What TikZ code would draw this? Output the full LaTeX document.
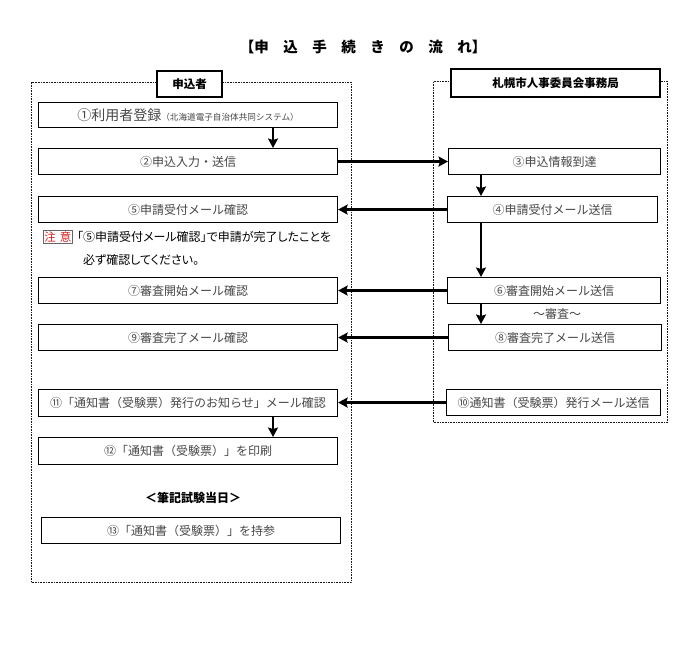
\documentclass[tikz,border=0pt]{standalone}
\usepackage{fontspec}
\newfontfamily\jp{Noto Sans CJK JP}
\newfontfamily\jpp{Noto Sans CJK JP}[RawFeature=+palt]
\usetikzlibrary{arrows.meta,calc}
\begin{document}
\begin{tikzpicture}[x=1pt,y=-1pt,
  box/.style={draw, line width=1.1pt, fill=white, inner sep=0pt, anchor=north west,
    font=\jp\fontsize{12}{14}\selectfont, text=black!72},
  hdr/.style={draw, line width=2pt, fill=white, inner sep=0pt, anchor=north west,
    font=\jp\bfseries\fontsize{11.5}{13}\selectfont},
  arr/.style={line width=2.2pt, -{Stealth[length=9.5pt,width=10pt,inset=1.5pt]}},
  cont/.style={draw=black!90, line width=1pt, dash pattern=on 0.9pt off 0.7pt, inner sep=0pt, anchor=north west}]
\useasboundingbox (0,0) rectangle (700,658);
% title
\node[font=\jp\bfseries\fontsize{14.5}{16}\selectfont] (title) at (363,47) {【申　込　手　続　き　の　流　れ】};
% containers
\node[cont, minimum width=320pt, minimum height=500pt] (lane1) at (31,82) {};
\node[cont, minimum width=234pt, minimum height=341pt] (lane2) at (433,81) {};
% headers
\node[hdr, minimum width=65pt, minimum height=26pt] (h1) at (156,70) {申込者};
\node[hdr, minimum width=209pt, minimum height=28pt] (h2) at (450,68) {札幌市人事委員会事務局};
% left boxes
\node[box, minimum width=299pt, minimum height=25pt] (n1) at (38,102) {{\fontsize{14}{16}\selectfont ①利用者登録}{\fontsize{8.6}{10}\selectfont （北海道電子自治体共同システム）}};
\node[box, minimum width=299pt, minimum height=26pt] (n2) at (38,148) {②申込入力・送信};
\node[box, minimum width=299pt, minimum height=26pt] (n5) at (38,196) {⑤申請受付メール確認};
\node[box, minimum width=299pt, minimum height=26pt] (n7) at (38,277) {⑦審査開始メール確認};
\node[box, minimum width=299pt, minimum height=26pt] (n9) at (38,324) {⑨審査完了メール確認};
\node[box, minimum width=299pt, minimum height=27pt] (n11) at (38,389) {⑪「通知書（受験票）発行のお知らせ」メール確認};
\node[box, minimum width=299pt, minimum height=27pt] (n12) at (38,437) {⑫「通知書（受験票）」を印刷};
\node[box, minimum width=299pt, minimum height=26pt] (n13) at (41,517) {⑬「通知書（受験票）」を持参};
% right boxes
\node[box, minimum width=212pt, minimum height=26pt] (n3) at (448,148) {③申込情報到達};
\node[box, minimum width=210pt, minimum height=26pt] (n4) at (447,196) {④申請受付メール送信};
\node[box, minimum width=213pt, minimum height=26pt] (n6) at (447,277) {⑥審査開始メール送信};
\node[box, minimum width=213pt, minimum height=26pt] (n8) at (448,324) {⑧審査完了メール送信};
\node[box, minimum width=214pt, minimum height=26pt] (n10) at (446,389) {⑩通知書（受験票）発行メール送信};
% notes
\node[draw=black!60, line width=0.6pt, fill=white, text={rgb,255:red,215;green,30;blue,30},
  font=\jp\fontsize{11.5}{13}\selectfont, inner xsep=1pt, inner ysep=1.5pt, anchor=west] (chui) at (43,237) {注\hspace{4pt}意};
\node[anchor=west, inner sep=0pt, font=\jpp\fontsize{12}{14}\selectfont] (note1) at (77,237) {「⑤申請受付メール確認」で申請が完了したことを};
\node[anchor=west, inner sep=0pt, font=\jpp\fontsize{12}{14}\selectfont] (note2) at (83,260) {必ず確認してください。};
\node[font=\jp\fontsize{12}{14}\selectfont, text=black!72] (shinsa) at (557,314) {～審査～};
\node[font=\jp\bfseries\fontsize{12}{14}\selectfont] (exam) at (193,498) {＜筆記試験当日＞};
% arrow columns
\coordinate (xa) at (273,0);
\coordinate (xb) at (481,0);
% vertical arrows
\draw[arr] (n1.south -| xa) -- (n2.north -| xa);
\draw[arr] (n3.south -| xb) -- (n4.north -| xb);
\draw[arr] (n4.south -| xb) -- (n6.north -| xb);
\draw[arr] (n6.south -| xb) -- (n8.north -| xb);
\draw[arr] (n11.south -| xa) -- (n12.north -| xa);
% horizontal arrows
\draw[arr] (n2.east) -- (n3.west);
\draw[arr] (n4.west) -- (n5.east);
\draw[arr] (n6.west) -- (n7.east);
\draw[arr] (n8.west) -- (n9.east);
\draw[arr] (n10.west) -- (n11.east |- n10.west);
\end{tikzpicture}
\end{document}
